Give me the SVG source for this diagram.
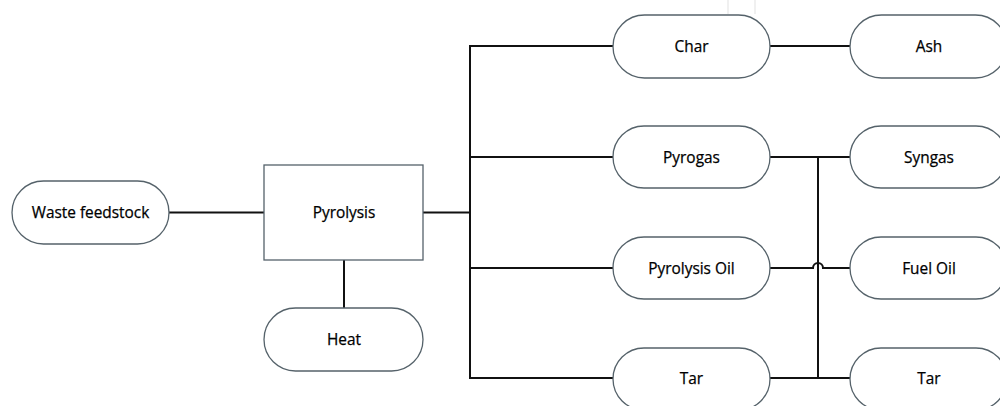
<svg xmlns="http://www.w3.org/2000/svg" width="1000" height="406" viewBox="0 0 1000 406">
<style>
.n{fill:#fff;stroke:#55626a;stroke-width:1.3}
.t{font-family:"Open Sans","Liberation Sans",sans-serif;font-size:15.4px;fill:#000;stroke:#000;stroke-width:0.25;text-anchor:middle;dominant-baseline:central}
.c{fill:none;stroke:#111;stroke-width:2}
</style>
<rect width="1000" height="406" fill="#fff"/>
<g stroke="#e6e6e6" stroke-width="1.2">
<line x1="728" y1="0" x2="728" y2="14"/>
<line x1="755" y1="0" x2="755" y2="14"/>
</g>
<g id="connectors">
<line class="c" x1="169" y1="212.5" x2="264" y2="212.5"/>
<line class="c" x1="423" y1="212.5" x2="470" y2="212.5"/>
<line class="c" x1="344" y1="260" x2="344" y2="308"/>
<polyline class="c" points="613,46 470,46 470,378 613,378"/>
<line class="c" x1="470" y1="157" x2="613" y2="157"/>
<line class="c" x1="470" y1="268" x2="613" y2="268"/>
<line class="c" x1="770" y1="46" x2="850" y2="46"/>
<line class="c" x1="770" y1="157" x2="850" y2="157"/>
<line class="c" x1="770" y1="378" x2="850" y2="378"/>
<line class="c" x1="818" y1="157" x2="818" y2="378"/>
<path class="c" d="M770,268 H813 A5,5 0 0 1 823,268 H850"/>
</g>
<g id="waste"><rect class="n" x="12" y="181" width="157" height="63" rx="31.5"/><text class="t" x="90.5" y="212.5">Waste feedstock</text></g>
<g id="pyrolysis"><rect class="n" x="264" y="165" width="159" height="95"/><text class="t" x="344" y="212.5">Pyrolysis</text></g>
<g id="heat"><rect class="n" x="264" y="308" width="159" height="63" rx="31.5"/><text class="t" x="344" y="339.5">Heat</text></g>
<g id="char"><rect class="n" x="613" y="15" width="157" height="63" rx="31.5"/><text class="t" x="691.5" y="46">Char</text></g>
<g id="pyrogas"><rect class="n" x="613" y="126" width="157" height="62" rx="31"/><text class="t" x="691.5" y="157">Pyrogas</text></g>
<g id="pyroil"><rect class="n" x="613" y="237" width="157" height="62" rx="31"/><text class="t" x="691.5" y="268">Pyrolysis Oil</text></g>
<g id="tar1"><rect class="n" x="613" y="348" width="157" height="62" rx="31"/><text class="t" x="691.5" y="378">Tar</text></g>
<g id="ash"><rect class="n" x="850" y="15" width="157" height="63" rx="31.5"/><text class="t" x="929" y="46">Ash</text></g>
<g id="syngas"><rect class="n" x="850" y="126" width="157" height="62" rx="31"/><text class="t" x="929" y="157">Syngas</text></g>
<g id="fueloil"><rect class="n" x="850" y="237" width="157" height="62" rx="31"/><text class="t" x="929" y="268">Fuel Oil</text></g>
<g id="tar2"><rect class="n" x="850" y="348" width="157" height="62" rx="31"/><text class="t" x="929" y="378">Tar</text></g>
</svg>
